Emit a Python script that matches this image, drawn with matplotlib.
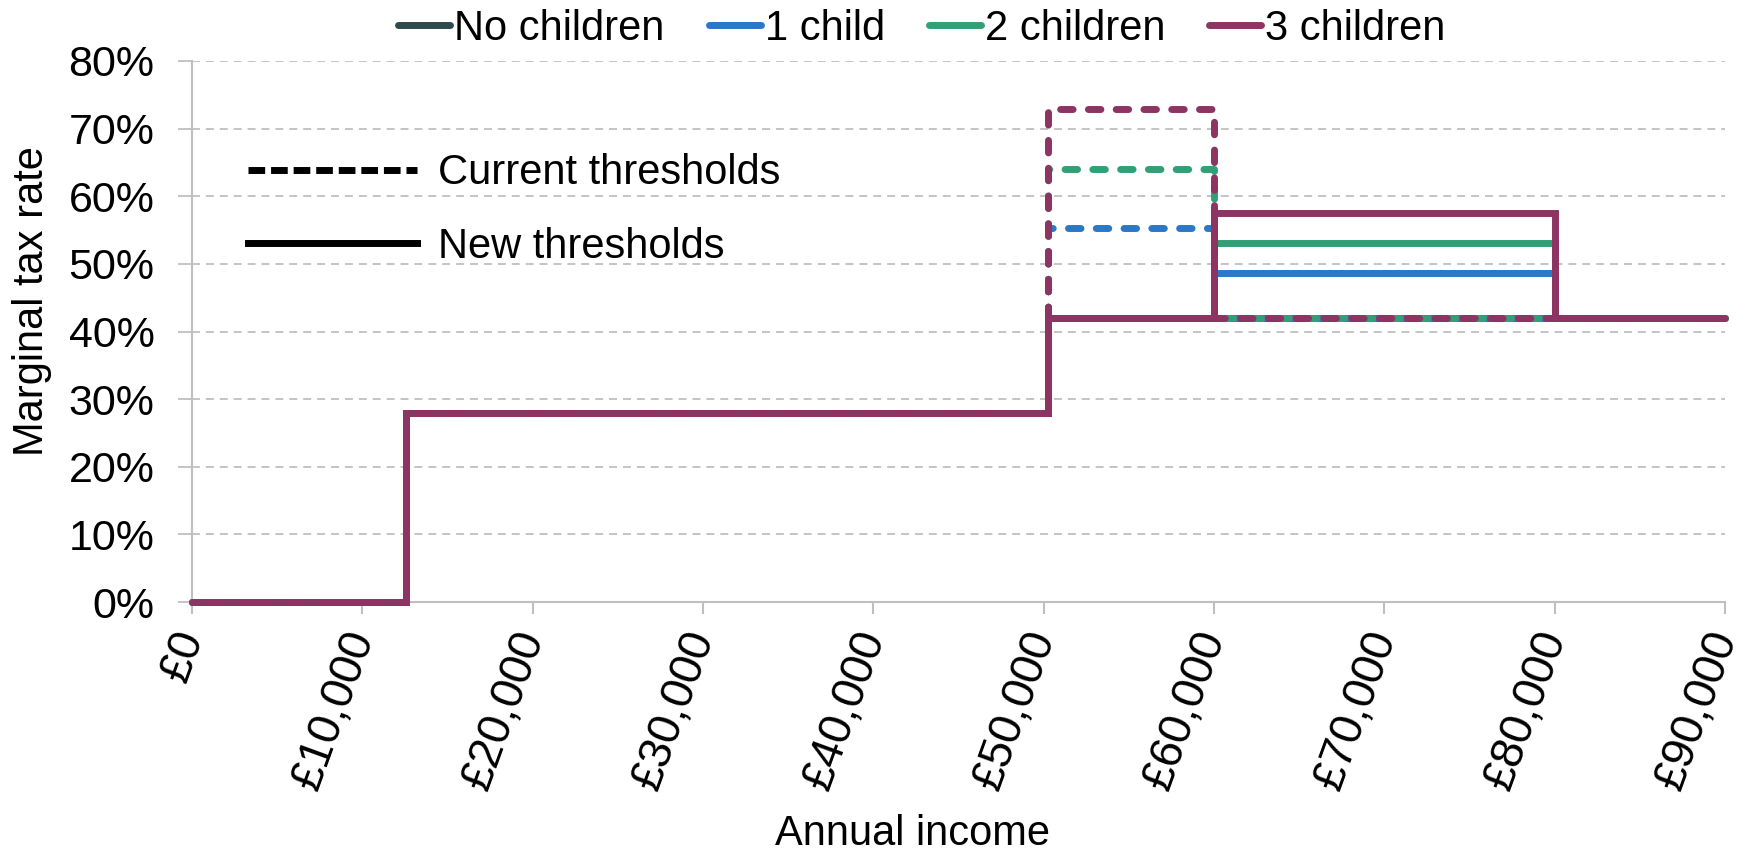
import matplotlib
matplotlib.use('Agg')
import matplotlib.pyplot as plt
from matplotlib.lines import Line2D
from matplotlib.ticker import FuncFormatter

plt.rcParams['font.family'] = ['Liberation Sans', 'DejaVu Sans']

# ---- data ----
income_breaks = [0, 12570, 50270, 60000, 80000, 90000]
series_names = ['No children', '1 child', '2 children', '3 children']
series_colors = ['#2D4A4C', '#2A78C6', '#31A077', '#8E3462']

# marginal tax rate (%) on each income segment, current thresholds
current_no_children = [0, 28, 42.0, 42, 42]
current_1_child = [0, 28, 55.3, 42, 42]
current_2_children = [0, 28, 64.1, 42, 42]
current_3_children = [0, 28, 72.9, 42, 42]

# new thresholds
new_no_children = [0, 28, 42, 42.0, 42]
new_1_child = [0, 28, 42, 48.7, 42]
new_2_children = [0, 28, 42, 53.1, 42]
new_3_children = [0, 28, 42, 57.5, 42]

current_series = [current_no_children, current_1_child, current_2_children, current_3_children]
new_series = [new_no_children, new_1_child, new_2_children, new_3_children]

x_ticks = [0, 10000, 20000, 30000, 40000, 50000, 60000, 70000, 80000, 90000]
y_ticks = [0, 10, 20, 30, 40, 50, 60, 70, 80]

# ---- figure ----
W, H = 1750, 851
fig = plt.figure(figsize=(W / 100, H / 100), dpi=100)
ax = fig.add_axes([192 / W, (H - 602) / H, 1533 / W, 541 / H])

LW = 5.0
grey = '#BFBFBF'

for name, col, cur, new in zip(series_names, series_colors, current_series, new_series):
    ax.step(income_breaks, new + [new[-1]], where='post', color=col, lw=LW,
            solid_joinstyle='miter', solid_capstyle='butt', clip_on=False, zorder=3)
    ax.step(income_breaks, cur + [cur[-1]], where='post', color=col, lw=LW,
            linestyle=(0, (1.8, 2.2)), dash_capstyle='round', dash_joinstyle='round',
            clip_on=False, zorder=3)

ax.set_xlim(0, 90000)
ax.set_ylim(0, 80)
ax.set_xticks(x_ticks)
ax.set_yticks(y_ticks)
ax.xaxis.set_major_formatter(FuncFormatter(lambda v, p: f'£{v:,.0f}'))
ax.yaxis.set_major_formatter(FuncFormatter(lambda v, p: f'{v:.0f}%'))

ax.yaxis.grid(True, color=grey, linestyle=(0, (4.4, 3.3)), linewidth=1.3)
ax.set_axisbelow(True)

for s in ['top', 'right']:
    ax.spines[s].set_visible(False)
for s in ['left', 'bottom']:
    ax.spines[s].set_color(grey)
    ax.spines[s].set_linewidth(1.5)

ax.tick_params(axis='y', length=10, width=1.3, color=grey, pad=17, labelsize=31)
ax.tick_params(axis='x', length=8.5, width=1.5, color=grey, pad=13, labelsize=33)
for lab in ax.get_xticklabels():
    lab.set_rotation(70)
    lab.set_rotation_mode('anchor')
    lab.set_ha('right')
    lab.set_va('center')

ax.set_xlabel('Annual income', fontsize=30)
ax.set_ylabel('Marginal tax rate', fontsize=30)
ax.xaxis.set_label_coords(0.470, -0.392)
ax.yaxis.set_label_coords(-0.091, 0.556)

# top legend (series colours)
handles = [Line2D([], [], color=c, lw=LW, solid_capstyle='round') for c in series_colors]
fig.legend(handles, series_names, loc='center', bbox_to_anchor=(922 / W, 1 - 29 / H),
           ncol=4, frameon=False, fontsize=30, handlelength=1.25, handletextpad=0.1,
           columnspacing=1.05, borderpad=0, borderaxespad=0)

# inner legend (line styles)
style_handles = [
    Line2D([], [], color='black', lw=LW, linestyle=(0, (2.4, 0.85)), dash_capstyle='butt'),
    Line2D([], [], color='black', lw=LW, linestyle='-'),
]
fig.legend(style_handles, ['Current thresholds', 'New thresholds'], loc='center left',
           bbox_to_anchor=(248 / W, 1 - 210 / H), frameon=False, fontsize=30,
           handlelength=4.05, handletextpad=0.5, labelspacing=0.8,
           borderpad=0, borderaxespad=0)

fig.savefig('out.png', dpi=100)
